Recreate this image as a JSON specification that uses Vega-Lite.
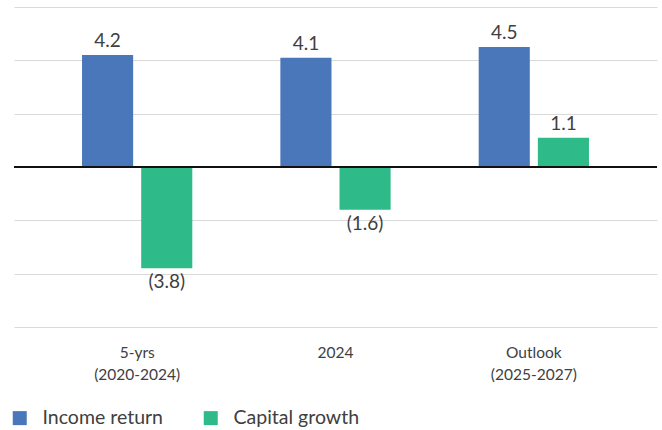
{
  "$schema": "https://vega.github.io/schema/vega-lite/v6.json",
  "width": 643,
  "height": 320,
  "autosize": {"type": "none"},
  "padding": {"left": 14, "top": 7, "right": 5, "bottom": 103},
  "background": "white",
  "config": {"view": {"stroke": null}, "font": "Lato", "text": {"font": "Lato"}},
  "data": {
    "values": [
      {"period": "5-yrs|(2020-2024)", "series": "Income return", "value": 4.2},
      {"period": "5-yrs|(2020-2024)", "series": "Capital growth", "value": -3.8},
      {"period": "2024", "series": "Income return", "value": 4.1},
      {"period": "2024", "series": "Capital growth", "value": -1.6},
      {"period": "Outlook|(2025-2027)", "series": "Income return", "value": 4.5},
      {"period": "Outlook|(2025-2027)", "series": "Capital growth", "value": 1.1}
    ]
  },
  "transform": [
    {"calculate": "datum.value < 0 ? '(' + format(-datum.value, '.1f') + ')' : format(datum.value, '.1f')", "as": "label"}
  ],
  "encoding": {
    "x": {
      "field": "period", "type": "nominal", "sort": null,
      "scale": {"paddingInner": 0.444, "paddingOuter": 0.343},
      "axis": {
        "title": null, "domain": false, "ticks": false, "labelAngle": 0,
        "labelExpr": "split(datum.label, '|')",
        "labelFont": "Lato", "labelFontSize": 15.5, "labelColor": "#404040",
        "labelPadding": 18, "labelLineHeight": 22
      }
    },
    "xOffset": {
      "field": "series", "type": "nominal", "sort": ["Income return", "Capital growth"],
      "scale": {"paddingInner": 0.136, "paddingOuter": 0}
    }
  },
  "layer": [
    {
      "mark": {"type": "bar"},
      "encoding": {
        "y": {
          "field": "value", "type": "quantitative",
          "scale": {"domain": [-6, 6], "nice": false},
          "axis": {
            "title": null, "labels": false, "ticks": false, "domain": false,
            "values": [-6, -4, -2, 0, 2, 4, 6],
            "gridColor": "#d9d9d9", "gridWidth": 1
          }
        },
        "color": {
          "field": "series", "type": "nominal",
          "sort": ["Income return", "Capital growth"],
          "scale": {"domain": ["Income return", "Capital growth"], "range": ["#4a76ba", "#2fbb89"]},
          "legend": {
            "title": null, "orient": "none", "direction": "horizontal",
            "legendX": -4, "legendY": 401,
            "symbolType": "square", "symbolSize": 196, "symbolStrokeWidth": 0,
            "labelFont": "Lato", "labelFontSize": 19.5, "labelColor": "#404040",
            "columnPadding": 38, "labelOffset": 13
          }
        }
      }
    },
    {
      "mark": {"type": "rule", "color": "#111111", "strokeWidth": 2},
      "encoding": {"y": {"datum": 0, "type": "quantitative"}, "x": null, "xOffset": null}
    },
    {
      "transform": [{"filter": "datum.value >= 0"}],
      "mark": {"type": "text", "baseline": "bottom", "dy": -4, "fontSize": 19, "color": "#404040", "font": "Lato"},
      "encoding": {"y": {"field": "value", "type": "quantitative"}, "text": {"field": "label"}}
    },
    {
      "transform": [{"filter": "datum.value < 0"}],
      "mark": {"type": "text", "baseline": "top", "dy": 5, "fontSize": 19, "color": "#404040", "font": "Lato"},
      "encoding": {"y": {"field": "value", "type": "quantitative"}, "text": {"field": "label"}}
    }
  ]
}
